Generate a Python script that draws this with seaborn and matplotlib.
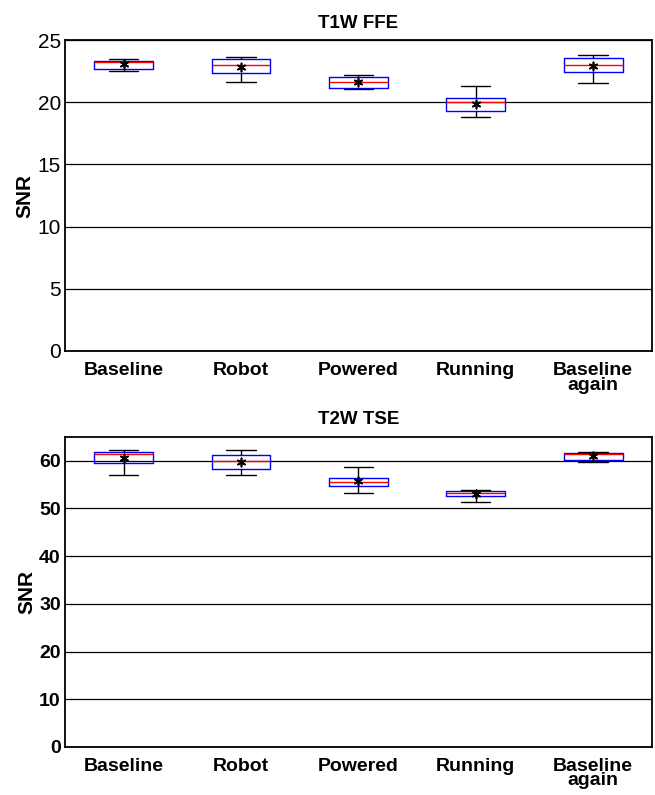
import matplotlib
matplotlib.use("Agg")
import matplotlib.pyplot as plt
import pandas as pd
import seaborn as sns

# ===== Данные (пятичисловые сводки) =====
conditions = ["Baseline", "Robot", "Powered", "Running", "Baseline\nagain"]

# T1W FFE
t1_low = [22.48, 21.60, 21.04, 18.79, 21.54]
t1_q1 = [22.67, 22.32, 21.12, 19.27, 22.40]
t1_med = [23.26, 23.02, 21.60, 20.02, 22.99]
t1_q3 = [23.31, 23.45, 22.05, 20.31, 23.55]
t1_high = [23.45, 23.66, 22.16, 21.30, 23.79]
t1_mean = [23.05, 22.83, 21.60, 19.90, 22.90]

# T2W TSE
t2_low = [57.07, 57.07, 53.29, 51.40, 59.80]
t2_q1 = [59.44, 58.32, 54.76, 52.52, 60.06]
t2_med = [61.47, 60.00, 55.53, 53.29, 61.32]
t2_q3 = [61.82, 61.19, 56.37, 53.57, 61.61]
t2_high = [62.24, 62.30, 58.67, 53.85, 61.82]
t2_mean = [60.49, 59.72, 55.67, 53.02, 60.90]


def summary_frame(low, q1, med, q3, high):
    rows = []
    for i, c in enumerate(conditions):
        for v in (low[i], q1[i], med[i], q3[i], high[i]):
            rows.append({"cond": c, "snr": v})
    return pd.DataFrame(rows)


sns.set_theme(style="white")
plt.rcParams["font.family"] = ["Liberation Sans", "DejaVu Sans"]
plt.rcParams["text.color"] = "black"
plt.rcParams["axes.labelcolor"] = "black"
plt.rcParams["xtick.color"] = "black"
plt.rcParams["ytick.color"] = "black"

fig = plt.figure(figsize=(6.55, 7.95), dpi=100)
ax1 = fig.add_axes([0.0992, 0.5585, 0.896, 0.391])
ax2 = fig.add_axes([0.0992, 0.0604, 0.896, 0.390])


def draw(ax, df, means, title, yticks, ylim, bold_ticks):
    ax.set_axisbelow(True)
    ax.yaxis.grid(True, color="black", linewidth=0.9)
    sns.boxplot(data=df, x="cond", y="snr", order=conditions, whis=(0, 100),
                width=0.5, fill=False, color="blue", linewidth=1.0,
                medianprops={"color": "red", "linewidth": 1.0},
                whiskerprops={"color": "black", "linewidth": 1.0},
                capprops={"color": "black", "linewidth": 1.0},
                showfliers=False, ax=ax)
    # среднее — звёздочка
    sns.stripplot(x=conditions, y=means, order=conditions, jitter=False,
                  marker=(6, 2, 0), color="black", size=6, linewidth=1.2,
                  edgecolor="black", ax=ax, zorder=5)
    ax.set_xlim(-0.5, len(conditions) - 0.5)
    ax.set_ylim(*ylim)
    ax.set_yticks(yticks)
    ax.set_xlabel("")
    ax.set_ylabel("SNR", fontsize=15, fontweight="bold", labelpad=2)
    ax.set_title(title, fontsize=13.5, fontweight="bold", pad=9, color="black")
    ax.tick_params(axis="x", length=0, pad=8)
    ax.tick_params(axis="y", direction="in", length=4, pad=3)
    for lab in ax.get_xticklabels():
        lab.set_fontsize(14)
        lab.set_fontweight("bold")
        lab.set_linespacing(0.8)
    for lab in ax.get_yticklabels():
        lab.set_fontsize(15 if not bold_ticks else 14)
        lab.set_fontweight("bold" if bold_ticks else "normal")
    for sp in ax.spines.values():
        sp.set_color("black")
        sp.set_linewidth(1.3)


draw(ax1, summary_frame(t1_low, t1_q1, t1_med, t1_q3, t1_high), t1_mean,
     "T1W FFE", [0, 5, 10, 15, 20, 25], (0, 25), False)
draw(ax2, summary_frame(t2_low, t2_q1, t2_med, t2_q3, t2_high), t2_mean,
     "T2W TSE", [0, 10, 20, 30, 40, 50, 60], (0, 65), True)

fig.savefig("out.png", dpi=100)
